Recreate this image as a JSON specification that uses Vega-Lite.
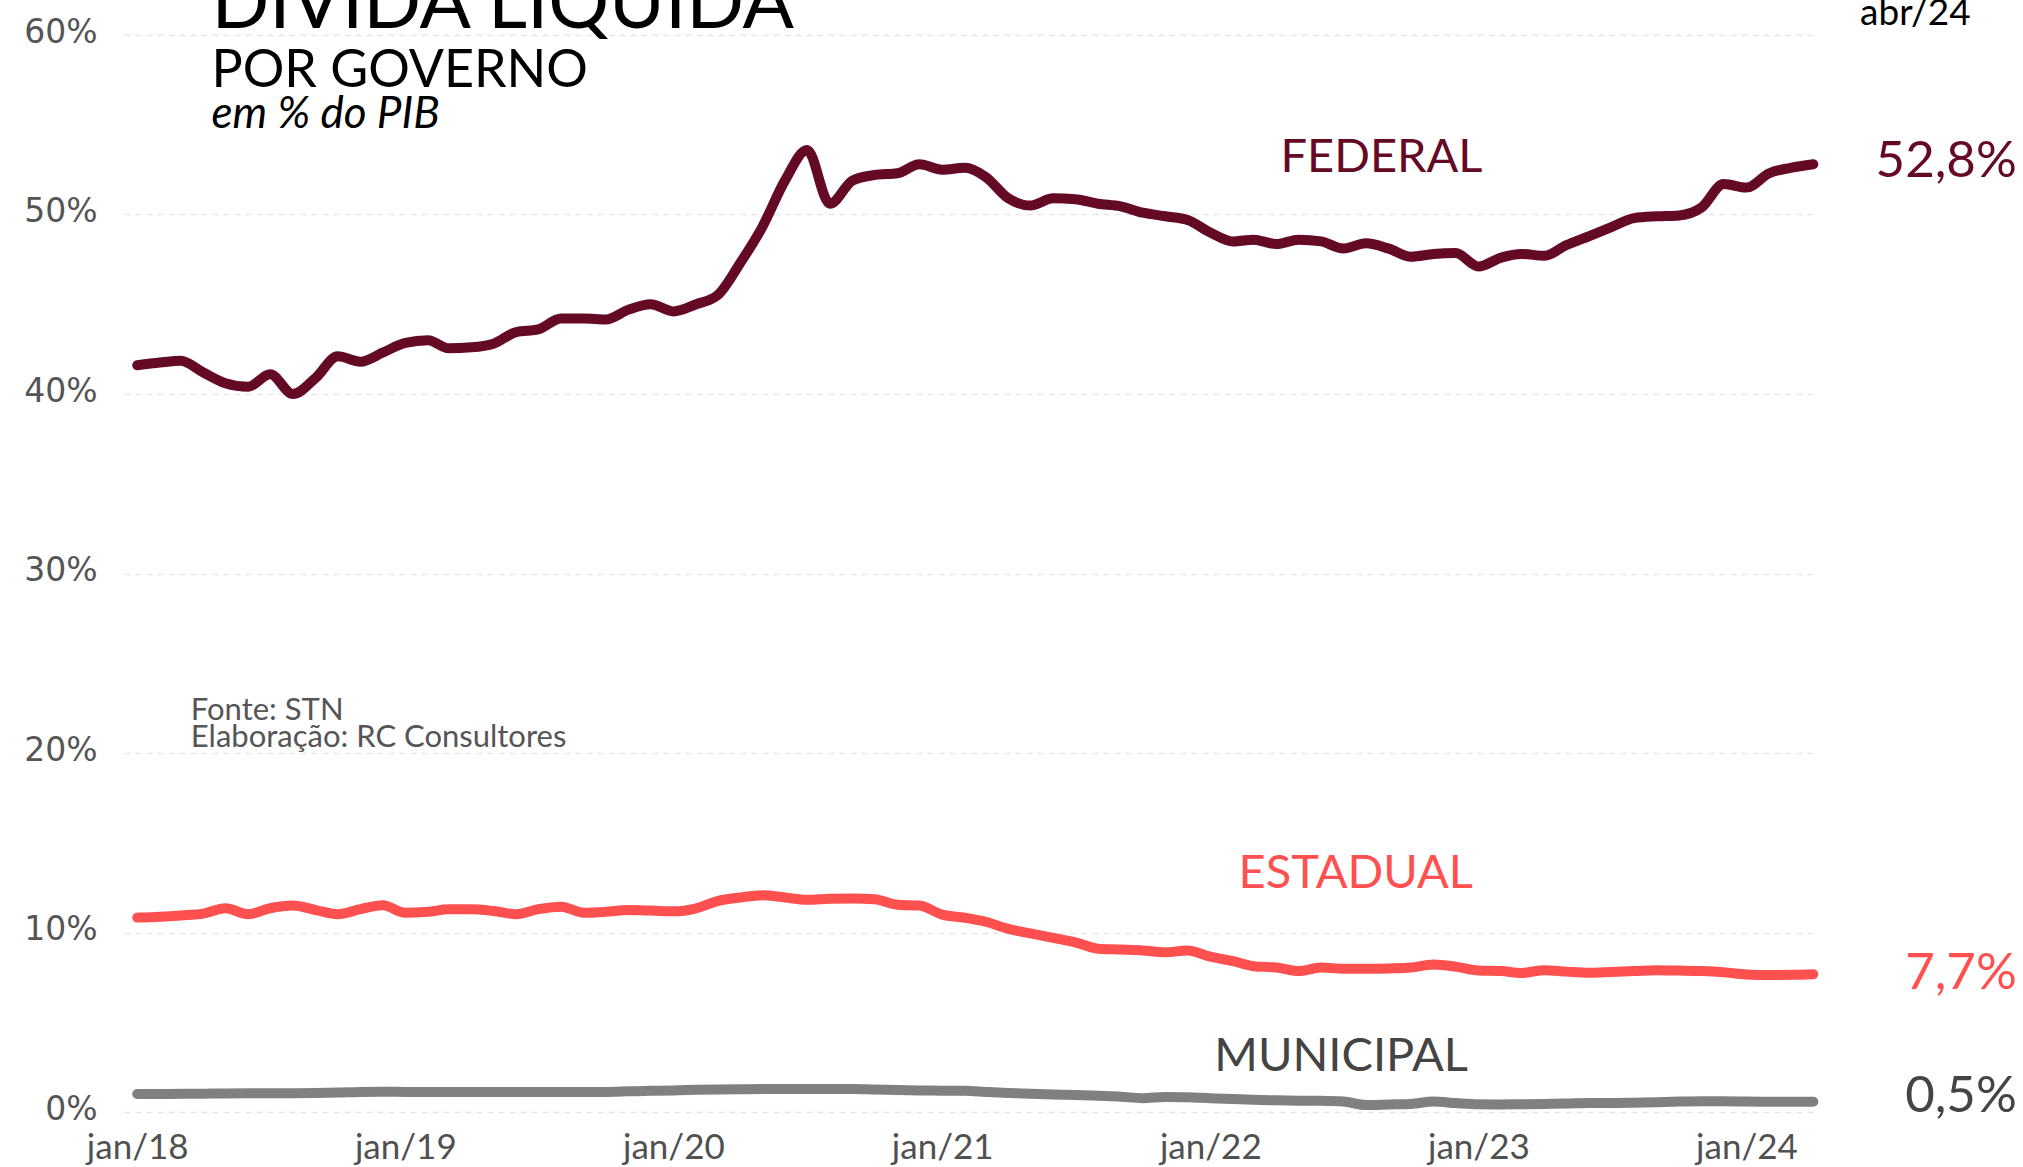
{
  "$schema": "https://vega.github.io/schema/vega-lite/v6.json",
  "autosize": {"type": "none"},
  "width": 1693,
  "height": 1077,
  "padding": {"left": 124, "top": 35, "right": 206, "bottom": 55},
  "background": "white",
  "config": {"view": {"stroke": null}, "font": "Lato"},
  "datasets": {
    "divida": [
      {"mes":"2018-01-01","serie":"Federal","valor":41.6},{"mes":"2018-02-01","serie":"Federal","valor":41.75},{"mes":"2018-03-01","serie":"Federal","valor":41.85},{"mes":"2018-04-01","serie":"Federal","valor":41.2},{"mes":"2018-05-01","serie":"Federal","valor":40.6},{"mes":"2018-06-01","serie":"Federal","valor":40.4},{"mes":"2018-07-01","serie":"Federal","valor":41.1},{"mes":"2018-08-01","serie":"Federal","valor":40.0},{"mes":"2018-09-01","serie":"Federal","valor":40.9},{"mes":"2018-10-01","serie":"Federal","valor":42.1},{"mes":"2018-11-01","serie":"Federal","valor":41.8},{"mes":"2018-12-01","serie":"Federal","valor":42.3},
      {"mes":"2019-01-01","serie":"Federal","valor":42.85},{"mes":"2019-02-01","serie":"Federal","valor":43.0},{"mes":"2019-03-01","serie":"Federal","valor":42.55},{"mes":"2019-04-01","serie":"Federal","valor":42.6},{"mes":"2019-05-01","serie":"Federal","valor":42.8},{"mes":"2019-06-01","serie":"Federal","valor":43.45},{"mes":"2019-07-01","serie":"Federal","valor":43.6},{"mes":"2019-08-01","serie":"Federal","valor":44.2},{"mes":"2019-09-01","serie":"Federal","valor":44.2},{"mes":"2019-10-01","serie":"Federal","valor":44.15},{"mes":"2019-11-01","serie":"Federal","valor":44.7},{"mes":"2019-12-01","serie":"Federal","valor":45.0},
      {"mes":"2020-01-01","serie":"Federal","valor":44.6},{"mes":"2020-02-01","serie":"Federal","valor":45.0},{"mes":"2020-03-01","serie":"Federal","valor":45.5},{"mes":"2020-04-01","serie":"Federal","valor":47.3},{"mes":"2020-05-01","serie":"Federal","valor":49.3},{"mes":"2020-06-01","serie":"Federal","valor":51.9},{"mes":"2020-07-01","serie":"Federal","valor":53.6},{"mes":"2020-08-01","serie":"Federal","valor":50.6},{"mes":"2020-09-01","serie":"Federal","valor":51.9},{"mes":"2020-10-01","serie":"Federal","valor":52.2},{"mes":"2020-11-01","serie":"Federal","valor":52.3},{"mes":"2020-12-01","serie":"Federal","valor":52.8},
      {"mes":"2021-01-01","serie":"Federal","valor":52.5},{"mes":"2021-02-01","serie":"Federal","valor":52.6},{"mes":"2021-03-01","serie":"Federal","valor":52.1},{"mes":"2021-04-01","serie":"Federal","valor":50.9},{"mes":"2021-05-01","serie":"Federal","valor":50.5},{"mes":"2021-06-01","serie":"Federal","valor":50.9},{"mes":"2021-07-01","serie":"Federal","valor":50.85},{"mes":"2021-08-01","serie":"Federal","valor":50.6},{"mes":"2021-09-01","serie":"Federal","valor":50.45},{"mes":"2021-10-01","serie":"Federal","valor":50.1},{"mes":"2021-11-01","serie":"Federal","valor":49.9},{"mes":"2021-12-01","serie":"Federal","valor":49.7},
      {"mes":"2022-01-01","serie":"Federal","valor":49.0},{"mes":"2022-02-01","serie":"Federal","valor":48.5},{"mes":"2022-03-01","serie":"Federal","valor":48.6},{"mes":"2022-04-01","serie":"Federal","valor":48.35},{"mes":"2022-05-01","serie":"Federal","valor":48.6},{"mes":"2022-06-01","serie":"Federal","valor":48.5},{"mes":"2022-07-01","serie":"Federal","valor":48.1},{"mes":"2022-08-01","serie":"Federal","valor":48.4},{"mes":"2022-09-01","serie":"Federal","valor":48.1},{"mes":"2022-10-01","serie":"Federal","valor":47.65},{"mes":"2022-11-01","serie":"Federal","valor":47.8},{"mes":"2022-12-01","serie":"Federal","valor":47.85},
      {"mes":"2023-01-01","serie":"Federal","valor":47.1},{"mes":"2023-02-01","serie":"Federal","valor":47.6},{"mes":"2023-03-01","serie":"Federal","valor":47.8},{"mes":"2023-04-01","serie":"Federal","valor":47.7},{"mes":"2023-05-01","serie":"Federal","valor":48.3},{"mes":"2023-06-01","serie":"Federal","valor":48.8},{"mes":"2023-07-01","serie":"Federal","valor":49.3},{"mes":"2023-08-01","serie":"Federal","valor":49.8},{"mes":"2023-09-01","serie":"Federal","valor":49.9},{"mes":"2023-10-01","serie":"Federal","valor":49.95},{"mes":"2023-11-01","serie":"Federal","valor":50.4},{"mes":"2023-12-01","serie":"Federal","valor":51.7},
      {"mes":"2024-01-01","serie":"Federal","valor":51.5},{"mes":"2024-02-01","serie":"Federal","valor":52.3},{"mes":"2024-03-01","serie":"Federal","valor":52.6},{"mes":"2024-04-01","serie":"Federal","valor":52.8},

      {"mes":"2018-01-01","serie":"Estadual","valor":10.83},{"mes":"2018-02-01","serie":"Estadual","valor":10.88},{"mes":"2018-03-01","serie":"Estadual","valor":10.95},{"mes":"2018-04-01","serie":"Estadual","valor":11.05},{"mes":"2018-05-01","serie":"Estadual","valor":11.35},{"mes":"2018-06-01","serie":"Estadual","valor":11.02},{"mes":"2018-07-01","serie":"Estadual","valor":11.35},{"mes":"2018-08-01","serie":"Estadual","valor":11.5},{"mes":"2018-09-01","serie":"Estadual","valor":11.25},{"mes":"2018-10-01","serie":"Estadual","valor":11.02},{"mes":"2018-11-01","serie":"Estadual","valor":11.3},{"mes":"2018-12-01","serie":"Estadual","valor":11.52},
      {"mes":"2019-01-01","serie":"Estadual","valor":11.1},{"mes":"2019-02-01","serie":"Estadual","valor":11.15},{"mes":"2019-03-01","serie":"Estadual","valor":11.3},{"mes":"2019-04-01","serie":"Estadual","valor":11.3},{"mes":"2019-05-01","serie":"Estadual","valor":11.2},{"mes":"2019-06-01","serie":"Estadual","valor":11.02},{"mes":"2019-07-01","serie":"Estadual","valor":11.3},{"mes":"2019-08-01","serie":"Estadual","valor":11.44},{"mes":"2019-09-01","serie":"Estadual","valor":11.1},{"mes":"2019-10-01","serie":"Estadual","valor":11.15},{"mes":"2019-11-01","serie":"Estadual","valor":11.25},{"mes":"2019-12-01","serie":"Estadual","valor":11.22},
      {"mes":"2020-01-01","serie":"Estadual","valor":11.18},{"mes":"2020-02-01","serie":"Estadual","valor":11.35},{"mes":"2020-03-01","serie":"Estadual","valor":11.75},{"mes":"2020-04-01","serie":"Estadual","valor":11.95},{"mes":"2020-05-01","serie":"Estadual","valor":12.08},{"mes":"2020-06-01","serie":"Estadual","valor":11.95},{"mes":"2020-07-01","serie":"Estadual","valor":11.82},{"mes":"2020-08-01","serie":"Estadual","valor":11.88},{"mes":"2020-09-01","serie":"Estadual","valor":11.9},{"mes":"2020-10-01","serie":"Estadual","valor":11.85},{"mes":"2020-11-01","serie":"Estadual","valor":11.55},{"mes":"2020-12-01","serie":"Estadual","valor":11.5},
      {"mes":"2021-01-01","serie":"Estadual","valor":11.0},{"mes":"2021-02-01","serie":"Estadual","valor":10.82},{"mes":"2021-03-01","serie":"Estadual","valor":10.6},{"mes":"2021-04-01","serie":"Estadual","valor":10.2},{"mes":"2021-05-01","serie":"Estadual","valor":9.95},{"mes":"2021-06-01","serie":"Estadual","valor":9.7},{"mes":"2021-07-01","serie":"Estadual","valor":9.45},{"mes":"2021-08-01","serie":"Estadual","valor":9.1},{"mes":"2021-09-01","serie":"Estadual","valor":9.05},{"mes":"2021-10-01","serie":"Estadual","valor":9.0},{"mes":"2021-11-01","serie":"Estadual","valor":8.9},{"mes":"2021-12-01","serie":"Estadual","valor":9.0},
      {"mes":"2022-01-01","serie":"Estadual","valor":8.65},{"mes":"2022-02-01","serie":"Estadual","valor":8.4},{"mes":"2022-03-01","serie":"Estadual","valor":8.12},{"mes":"2022-04-01","serie":"Estadual","valor":8.05},{"mes":"2022-05-01","serie":"Estadual","valor":7.85},{"mes":"2022-06-01","serie":"Estadual","valor":8.05},{"mes":"2022-07-01","serie":"Estadual","valor":7.98},{"mes":"2022-08-01","serie":"Estadual","valor":7.98},{"mes":"2022-09-01","serie":"Estadual","valor":8.0},{"mes":"2022-10-01","serie":"Estadual","valor":8.05},{"mes":"2022-11-01","serie":"Estadual","valor":8.22},{"mes":"2022-12-01","serie":"Estadual","valor":8.1},
      {"mes":"2023-01-01","serie":"Estadual","valor":7.88},{"mes":"2023-02-01","serie":"Estadual","valor":7.85},{"mes":"2023-03-01","serie":"Estadual","valor":7.75},{"mes":"2023-04-01","serie":"Estadual","valor":7.9},{"mes":"2023-05-01","serie":"Estadual","valor":7.82},{"mes":"2023-06-01","serie":"Estadual","valor":7.76},{"mes":"2023-07-01","serie":"Estadual","valor":7.8},{"mes":"2023-08-01","serie":"Estadual","valor":7.85},{"mes":"2023-09-01","serie":"Estadual","valor":7.9},{"mes":"2023-10-01","serie":"Estadual","valor":7.88},{"mes":"2023-11-01","serie":"Estadual","valor":7.85},{"mes":"2023-12-01","serie":"Estadual","valor":7.78},
      {"mes":"2024-01-01","serie":"Estadual","valor":7.66},{"mes":"2024-02-01","serie":"Estadual","valor":7.63},{"mes":"2024-03-01","serie":"Estadual","valor":7.64},{"mes":"2024-04-01","serie":"Estadual","valor":7.68},

      {"mes":"2018-01-01","serie":"Municipal","valor":1.0},{"mes":"2018-02-01","serie":"Municipal","valor":1.0},{"mes":"2018-03-01","serie":"Municipal","valor":1.01},{"mes":"2018-04-01","serie":"Municipal","valor":1.02},{"mes":"2018-05-01","serie":"Municipal","valor":1.03},{"mes":"2018-06-01","serie":"Municipal","valor":1.04},{"mes":"2018-07-01","serie":"Municipal","valor":1.05},{"mes":"2018-08-01","serie":"Municipal","valor":1.05},{"mes":"2018-09-01","serie":"Municipal","valor":1.06},{"mes":"2018-10-01","serie":"Municipal","valor":1.08},{"mes":"2018-11-01","serie":"Municipal","valor":1.12},{"mes":"2018-12-01","serie":"Municipal","valor":1.13},
      {"mes":"2019-01-01","serie":"Municipal","valor":1.12},{"mes":"2019-02-01","serie":"Municipal","valor":1.12},{"mes":"2019-03-01","serie":"Municipal","valor":1.12},{"mes":"2019-04-01","serie":"Municipal","valor":1.12},{"mes":"2019-05-01","serie":"Municipal","valor":1.12},{"mes":"2019-06-01","serie":"Municipal","valor":1.12},{"mes":"2019-07-01","serie":"Municipal","valor":1.12},{"mes":"2019-08-01","serie":"Municipal","valor":1.12},{"mes":"2019-09-01","serie":"Municipal","valor":1.12},{"mes":"2019-10-01","serie":"Municipal","valor":1.12},{"mes":"2019-11-01","serie":"Municipal","valor":1.15},{"mes":"2019-12-01","serie":"Municipal","valor":1.18},
      {"mes":"2020-01-01","serie":"Municipal","valor":1.2},{"mes":"2020-02-01","serie":"Municipal","valor":1.24},{"mes":"2020-03-01","serie":"Municipal","valor":1.26},{"mes":"2020-04-01","serie":"Municipal","valor":1.27},{"mes":"2020-05-01","serie":"Municipal","valor":1.28},{"mes":"2020-06-01","serie":"Municipal","valor":1.28},{"mes":"2020-07-01","serie":"Municipal","valor":1.28},{"mes":"2020-08-01","serie":"Municipal","valor":1.28},{"mes":"2020-09-01","serie":"Municipal","valor":1.28},{"mes":"2020-10-01","serie":"Municipal","valor":1.25},{"mes":"2020-11-01","serie":"Municipal","valor":1.22},{"mes":"2020-12-01","serie":"Municipal","valor":1.2},
      {"mes":"2021-01-01","serie":"Municipal","valor":1.19},{"mes":"2021-02-01","serie":"Municipal","valor":1.18},{"mes":"2021-03-01","serie":"Municipal","valor":1.12},{"mes":"2021-04-01","serie":"Municipal","valor":1.06},{"mes":"2021-05-01","serie":"Municipal","valor":1.02},{"mes":"2021-06-01","serie":"Municipal","valor":0.98},{"mes":"2021-07-01","serie":"Municipal","valor":0.95},{"mes":"2021-08-01","serie":"Municipal","valor":0.9},{"mes":"2021-09-01","serie":"Municipal","valor":0.85},{"mes":"2021-10-01","serie":"Municipal","valor":0.77},{"mes":"2021-11-01","serie":"Municipal","valor":0.84},{"mes":"2021-12-01","serie":"Municipal","valor":0.82},
      {"mes":"2022-01-01","serie":"Municipal","valor":0.77},{"mes":"2022-02-01","serie":"Municipal","valor":0.72},{"mes":"2022-03-01","serie":"Municipal","valor":0.68},{"mes":"2022-04-01","serie":"Municipal","valor":0.65},{"mes":"2022-05-01","serie":"Municipal","valor":0.63},{"mes":"2022-06-01","serie":"Municipal","valor":0.62},{"mes":"2022-07-01","serie":"Municipal","valor":0.58},{"mes":"2022-08-01","serie":"Municipal","valor":0.39},{"mes":"2022-09-01","serie":"Municipal","valor":0.42},{"mes":"2022-10-01","serie":"Municipal","valor":0.45},{"mes":"2022-11-01","serie":"Municipal","valor":0.58},{"mes":"2022-12-01","serie":"Municipal","valor":0.5},
      {"mes":"2023-01-01","serie":"Municipal","valor":0.43},{"mes":"2023-02-01","serie":"Municipal","valor":0.42},{"mes":"2023-03-01","serie":"Municipal","valor":0.43},{"mes":"2023-04-01","serie":"Municipal","valor":0.45},{"mes":"2023-05-01","serie":"Municipal","valor":0.47},{"mes":"2023-06-01","serie":"Municipal","valor":0.5},{"mes":"2023-07-01","serie":"Municipal","valor":0.5},{"mes":"2023-08-01","serie":"Municipal","valor":0.52},{"mes":"2023-09-01","serie":"Municipal","valor":0.55},{"mes":"2023-10-01","serie":"Municipal","valor":0.58},{"mes":"2023-11-01","serie":"Municipal","valor":0.6},{"mes":"2023-12-01","serie":"Municipal","valor":0.6},
      {"mes":"2024-01-01","serie":"Municipal","valor":0.58},{"mes":"2024-02-01","serie":"Municipal","valor":0.57},{"mes":"2024-03-01","serie":"Municipal","valor":0.57},{"mes":"2024-04-01","serie":"Municipal","valor":0.57}
    ]
  },
  "layer": [
    {
      "data": {"name": "divida"},
      "mark": {"type": "line", "interpolate": "monotone", "strokeWidth": 10, "strokeCap": "round", "strokeJoin": "round"},
      "encoding": {
        "x": {
          "field": "mes", "type": "temporal",
          "scale": {"type": "utc", "domain": [{"year": 2017, "month": 12, "date": 14, "utc": true}, {"year": 2024, "month": 4, "date": 6, "utc": true}]},
          "axis": {
            "title": null, "grid": false, "domain": false, "ticks": false,
            "values": [{"year": 2018, "month": 1, "date": 1, "utc": true}, {"year": 2019, "month": 1, "date": 1, "utc": true}, {"year": 2020, "month": 1, "date": 1, "utc": true}, {"year": 2021, "month": 1, "date": 1, "utc": true}, {"year": 2022, "month": 1, "date": 1, "utc": true}, {"year": 2023, "month": 1, "date": 1, "utc": true}, {"year": 2024, "month": 1, "date": 1, "utc": true}],
            "labelExpr": "'jan/' + utcFormat(datum.value, '%y')",
            "labelFont": "Lato", "labelFontSize": 35, "labelColor": "#505050", "labelPadding": 18, "labelFlush": false, "labelOverlap": false
          }
        },
        "y": {
          "field": "valor", "type": "quantitative",
          "scale": {"domain": [0, 60], "nice": false, "zero": true},
          "axis": {
            "title": null, "domain": false, "ticks": false,
            "values": [0, 10, 20, 30, 40, 50, 60],
            "labelExpr": "datum.value + '%'",
            "labelFont": "DejaVu Sans", "labelFontSize": 33, "labelColor": "#555555", "labelPadding": 27,
            "labelOffset": -3,
            "grid": true, "gridColor": "#e6e6e6", "gridDash": [6, 5], "gridWidth": 1.5
          }
        },
        "color": {
          "field": "serie", "type": "nominal", "legend": null,
          "scale": {"domain": ["Federal", "Estadual", "Municipal"], "range": ["#650A25", "#FF5050", "#808080"]}
        }
      }
    },
    {
      "data": {"values": [{"mes": "2018-04-12", "valor": 60.39, "texto": "DÍVIDA LÍQUIDA"}]},
      "mark": {"type": "text", "align": "left", "baseline": "alphabetic", "font": "Lato", "fontSize": 76, "color": "#000000"},
      "encoding": {"x": {"field": "mes", "type": "temporal"}, "y": {"field": "valor", "type": "quantitative"}, "text": {"field": "texto"}}
    },
    {
      "data": {"values": [{"mes": "2018-04-12", "valor": 57.1, "texto": "POR GOVERNO"}]},
      "mark": {"type": "text", "align": "left", "baseline": "alphabetic", "font": "Lato", "fontSize": 52, "color": "#000000"},
      "encoding": {"x": {"field": "mes", "type": "temporal"}, "y": {"field": "valor", "type": "quantitative"}, "text": {"field": "texto"}}
    },
    {
      "data": {"values": [{"mes": "2018-04-12", "valor": 54.82, "texto": "em % do PIB"}]},
      "mark": {"type": "text", "align": "left", "baseline": "alphabetic", "font": "Lato", "fontSize": 44, "fontStyle": "italic", "color": "#000000"},
      "encoding": {"x": {"field": "mes", "type": "temporal"}, "y": {"field": "valor", "type": "quantitative"}, "text": {"field": "texto"}}
    },
    {
      "data": {"values": [{"mes": "2018-03-15", "valor": 21.84, "texto": "Fonte: STN"}, {"mes": "2018-03-15", "valor": 20.33, "texto": "Elaboração: RC Consultores"}]},
      "mark": {"type": "text", "align": "left", "baseline": "alphabetic", "font": "Lato", "fontSize": 31, "color": "#555555"},
      "encoding": {"x": {"field": "mes", "type": "temporal"}, "y": {"field": "valor", "type": "quantitative"}, "text": {"field": "texto"}}
    },
    {
      "data": {"values": [{"mes": "2024-08-18", "valor": 60.56, "texto": "abr/24"}]},
      "mark": {"type": "text", "align": "center", "baseline": "alphabetic", "font": "Lato", "fontSize": 37, "color": "#000000"},
      "encoding": {"x": {"field": "mes", "type": "temporal"}, "y": {"field": "valor", "type": "quantitative"}, "text": {"field": "texto"}}
    },
    {
      "data": {"values": [{"mes": "2022-08-22", "valor": 52.37, "texto": "FEDERAL"}]},
      "mark": {"type": "text", "align": "center", "baseline": "alphabetic", "font": "Lato", "fontSize": 47, "color": "#650A25"},
      "encoding": {"x": {"field": "mes", "type": "temporal"}, "y": {"field": "valor", "type": "quantitative"}, "text": {"field": "texto"}}
    },
    {
      "data": {"values": [{"mes": "2022-07-18", "valor": 12.48, "texto": "ESTADUAL"}]},
      "mark": {"type": "text", "align": "center", "baseline": "alphabetic", "font": "Lato", "fontSize": 47, "color": "#FF5050"},
      "encoding": {"x": {"field": "mes", "type": "temporal"}, "y": {"field": "valor", "type": "quantitative"}, "text": {"field": "texto"}}
    },
    {
      "data": {"values": [{"mes": "2022-06-28", "valor": 2.28, "texto": "MUNICIPAL"}]},
      "mark": {"type": "text", "align": "center", "baseline": "alphabetic", "font": "Lato", "fontSize": 47, "color": "#444444"},
      "encoding": {"x": {"field": "mes", "type": "temporal"}, "y": {"field": "valor", "type": "quantitative"}, "text": {"field": "texto"}}
    },
    {
      "data": {"values": [{"mes": "2025-01-03", "valor": 52.09, "texto": "52,8%"}]},
      "mark": {"type": "text", "align": "right", "baseline": "alphabetic", "font": "Lato", "fontSize": 51, "color": "#650A25"},
      "encoding": {"x": {"field": "mes", "type": "temporal"}, "y": {"field": "valor", "type": "quantitative"}, "text": {"field": "texto"}}
    },
    {
      "data": {"values": [{"mes": "2025-01-03", "valor": 6.85, "texto": "7,7%"}]},
      "mark": {"type": "text", "align": "right", "baseline": "alphabetic", "font": "Lato", "fontSize": 51, "color": "#FF5050"},
      "encoding": {"x": {"field": "mes", "type": "temporal"}, "y": {"field": "valor", "type": "quantitative"}, "text": {"field": "texto"}}
    },
    {
      "data": {"values": [{"mes": "2025-01-03", "valor": 0.0, "texto": "0,5%"}]},
      "mark": {"type": "text", "align": "right", "baseline": "alphabetic", "font": "Lato", "fontSize": 51, "color": "#444444"},
      "encoding": {"x": {"field": "mes", "type": "temporal"}, "y": {"field": "valor", "type": "quantitative"}, "text": {"field": "texto"}}
    }
  ]
}
